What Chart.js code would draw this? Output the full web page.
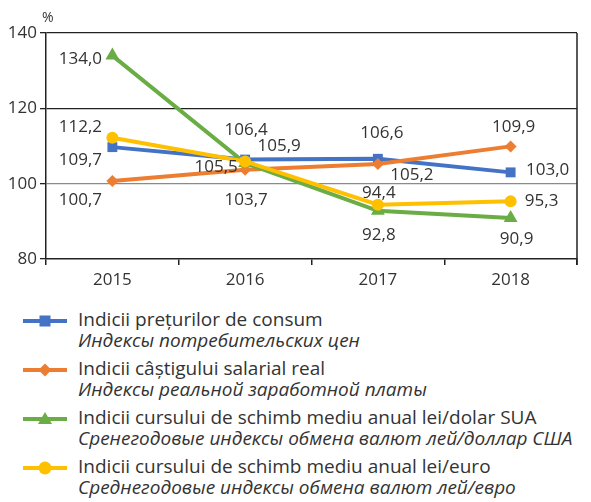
<!DOCTYPE html>
<html>
<head>
<meta charset="utf-8">
<script src="https://cdn.jsdelivr.net/npm/chart.js@4.4.1/dist/chart.umd.min.js"></script>
<style>
  html, body { margin: 0; padding: 0; background: #fff; }
  body { width: 591px; height: 502px; position: relative; overflow: hidden; font-family: "Open Sans", sans-serif; color: #333; }
  #wrap { position: absolute; left: 0; top: 0; width: 591px; height: 300px; }
  #pct { position: absolute; left: 42px; top: 7px; font-size: 14px; color: #333; }
  #legend { position: absolute; left: 0; top: 309px; width: 591px; }
  .item { position: relative; height: 49px; }
  .item svg { position: absolute; left: 23px; top: 1px; }
  .t1 { position: absolute; left: 78px; top: -2px; font-size: 19px; line-height: 24px; white-space: nowrap; }
  .t2 { position: absolute; left: 78px; top: 19px; font-size: 19px; line-height: 24px; font-style: italic; white-space: nowrap; }
</style>
</head>
<body>
<div id="wrap"><canvas id="c" width="591" height="300"></canvas></div>
<div id="pct">%</div>
<div id="legend"></div>
<script>
// ---- data ----
const years = ['2015', '2016', '2017', '2018'];
const cpi = [109.7, 106.4, 106.6, 103.0];
const wages = [100.7, 103.7, 105.2, 109.9];
const usd = [134.0, 105.5, 92.8, 90.9];
const eur = [112.2, 105.9, 94.4, 95.3];
const yTicks = [80, 100, 120, 140];
const namesRo = [
  'Indicii prețurilor de consum',
  'Indicii câștigului salarial real',
  'Indicii cursului de schimb mediu anual lei/dolar SUA',
  'Indicii cursului de schimb mediu anual lei/euro'
];
const namesRu = [
  'Индексы потребительских цен',
  'Индексы реальной заработной платы',
  'Сренегодовые индексы обмена валют лей/доллар США',
  'Среднегодовые индексы обмена валют лей/евро'
];

// ---- styles ----
const colors = ['#4472c4', '#ed7d31', '#6aad45', '#ffc000'];
const pStyles = ['rect', 'rectRot', 'triangle', 'circle'];
const pRadius = [7, 6, 8, 6];
const drawOrder = [4, 3, 2, 1];
// label offsets (dx, dy) per series per point
const labelOffsets = [
  [[-32, 13], [1, -29], [4, -26], [37, -2]],
  [[-32, 19], [1, 30], [34, 11], [3, -19]],
  [[-32, 4], [-29, 4], [1, 24], [6, 21]],
  [[-32, -11], [34, -15], [1, -12], [31, 0]]
];

const seriesData = [cpi, wages, usd, eur];

const datasets = seriesData.map((d, i) => ({
  label: namesRo[i],
  data: d,
  borderColor: colors[i],
  backgroundColor: colors[i],
  borderWidth: 4,
  pointStyle: pStyles[i],
  pointRadius: pRadius[i],
  pointHoverRadius: pRadius[i],
  pointBorderWidth: 0,
  tension: 0,
  order: drawOrder[i]
}));

const fmt = v => v.toFixed(1).replace('.', ',');

const labelPlugin = {
  id: 'vlabels',
  afterDatasetsDraw(chart) {
    const ctx = chart.ctx;
    ctx.save();
    ctx.font = '17px "Open Sans"';
    ctx.fillStyle = '#333';
    ctx.textAlign = 'center';
    ctx.textBaseline = 'middle';
    chart.data.datasets.forEach((ds, i) => {
      const meta = chart.getDatasetMeta(i);
      meta.data.forEach((pt, j) => {
        const off = labelOffsets[i][j];
        ctx.fillText(fmt(ds.data[j]), pt.x + off[0], pt.y + off[1]);
      });
    });
    ctx.restore();
  }
};

const borderPlugin = {
  id: 'rborder',
  beforeDatasetsDraw(chart) {
    const a = chart.chartArea;
    const ctx = chart.ctx;
    ctx.save();
    ctx.strokeStyle = '#222';
    ctx.lineWidth = 1.5;
    ctx.beginPath();
    ctx.moveTo(a.right, a.top);
    ctx.lineTo(a.right, a.bottom + 6);
    ctx.stroke();
    ctx.restore();
  }
};

new Chart(document.getElementById('c'), {
  type: 'line',
  data: { labels: years, datasets },
  options: {
    responsive: false,
    animation: false,
    events: [],
    layout: { padding: { top: 33, right: 14, left: 0, bottom: 0 } },
    plugins: { legend: { display: false }, tooltip: { enabled: false } },
    scales: {
      x: {
        type: 'category',
        offset: true,
        grid: { offset: true, drawOnChartArea: false, drawTicks: true, tickLength: 6, color: '#222', lineWidth: 1.5 },
        border: { display: true, color: '#222', width: 1.5 },
        ticks: { color: '#333', font: { family: 'Open Sans', size: 17 }, padding: 5 },
        afterFit(s) { s.height = 41; }
      },
      y: {
        min: 80, max: 140,
        afterBuildTicks(s) { s.ticks = yTicks.map(v => ({ value: v })); },
        grid: {
          drawTicks: true, tickLength: 6,
          color: c => c.tick && c.tick.value === 100 ? '#8a8a8a' : (c.tick && c.tick.value === 80 ? 'rgba(0,0,0,0)' : '#222'),
          tickColor: '#222',
          lineWidth: 1.3
        },
        border: { display: true, color: '#222', width: 1.5 },
        ticks: { color: '#333', font: { family: 'Open Sans', size: 17 }, padding: 3 },
        afterFit(s) { s.width = 46; }
      }
    }
  },
  plugins: [labelPlugin, borderPlugin]
});

// ---- legend (HTML) ----
function markerSvg(i) {
  const c = colors[i];
  let m = '';
  const cx = 22;
  if (pStyles[i] === 'rect') m = `<rect x="${cx-5.5}" y="5.5" width="11" height="11" fill="${c}"/>`;
  else if (pStyles[i] === 'rectRot') m = `<polygon points="${cx},4.5 ${cx+6.5},11 ${cx},17.5 ${cx-6.5},11" fill="${c}"/>`;
  else if (pStyles[i] === 'triangle') m = `<polygon points="${cx},4 ${cx+7},16 ${cx-7},16" fill="${c}"/>`;
  else m = `<circle cx="${cx}" cy="11" r="6.5" fill="${c}"/>`;
  return `<svg width="44" height="22"><line x1="0" y1="11" x2="44" y2="11" stroke="${c}" stroke-width="4"/>${m}</svg>`;
}
const lg = document.getElementById('legend');
namesRo.forEach((n, i) => {
  const d = document.createElement('div');
  d.className = 'item';
  d.innerHTML = markerSvg(i) + `<div class="t1">${n}</div><div class="t2">${namesRu[i]}</div>`;
  lg.appendChild(d);
});
</script>
</body>
</html>
